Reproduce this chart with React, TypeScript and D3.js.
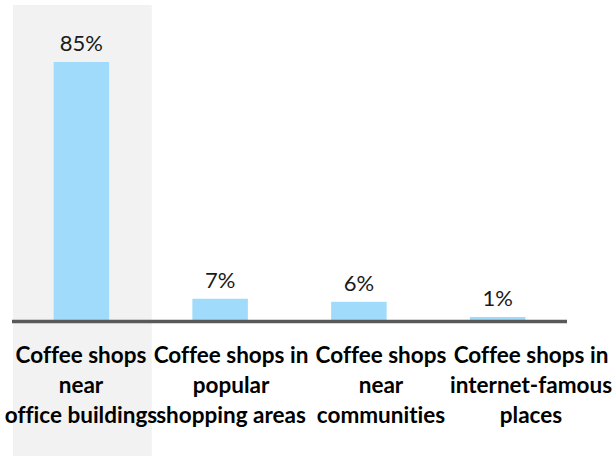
import React from "react";
import * as d3 from "d3";

const categories = [
  "Coffee shops near office buildings",
  "Coffee shops in popular shopping areas",
  "Coffee shops near communities",
  "Coffee shops in internet-famous places",
];
const categoryLines = [
  ["Coffee shops", "near", "office buildings"],
  ["Coffee shops in", "popular", "shopping areas"],
  ["Coffee shops", "near", "communities"],
  ["Coffee shops in", "internet-famous", "places"],
];
const values = [85, 7, 6, 1];
const valueLabels = ["85%", "7%", "6%", "1%"];
const highlighted = categories[0];

export default function App() {
  const W = 616;
  const H = 456;
  const baseline = 320;
  const x = d3
    .scaleBand<string>()
    .domain(categories)
    .range([12, 567])
    .paddingInner(0.6)
    .paddingOuter(0.3);
  const xLabel = d3.scalePoint<string>().domain(categories).range([81, 531]);
  const y = d3.scaleLinear().domain([0, 85]).range([baseline, 62]);
  const step = x.step();
  const font = "Lato, 'Open Sans', sans-serif";

  return (
    <svg
      width={W}
      height={H}
      style={{
        position: "absolute",
        left: 0,
        top: 0,
        background: "#fff",
        fontVariantLigatures: "none",
      }}
    >
      <rect
        x={(x(highlighted) as number) - step * 0.3 + 1}
        y={5}
        width={step}
        height={H - 5}
        fill="#f2f2f2"
      />
      {categories.map((c, i) => (
        <rect
          key={c}
          x={x(c)}
          y={y(values[i])}
          width={x.bandwidth()}
          height={baseline - y(values[i])}
          fill="#a0dbfb"
        />
      ))}
      {categories.map((c, i) => (
        <text
          key={c + "v"}
          x={(x(c) as number) + x.bandwidth() / 2}
          y={y(values[i]) - 11}
          textAnchor="middle"
          fontFamily={font}
          fontSize={22}
          fill="#1a1a1a"
        >
          {valueLabels[i]}
        </text>
      ))}
      <line x1={12} x2={567} y1={321.5} y2={321.5} stroke="#595959" strokeWidth={3.5} />
      {categories.map((c, i) => (
        <text
          key={c + "l"}
          textAnchor="middle"
          fontFamily={font}
          fontSize={22.5}
          fontWeight="bold"
          fill="#000"
        >
          {categoryLines[i].map((ln, j) => (
            <tspan key={j} x={xLabel(c)} y={363 + j * 30}>
              {ln}
            </tspan>
          ))}
        </text>
      ))}
    </svg>
  );
}
